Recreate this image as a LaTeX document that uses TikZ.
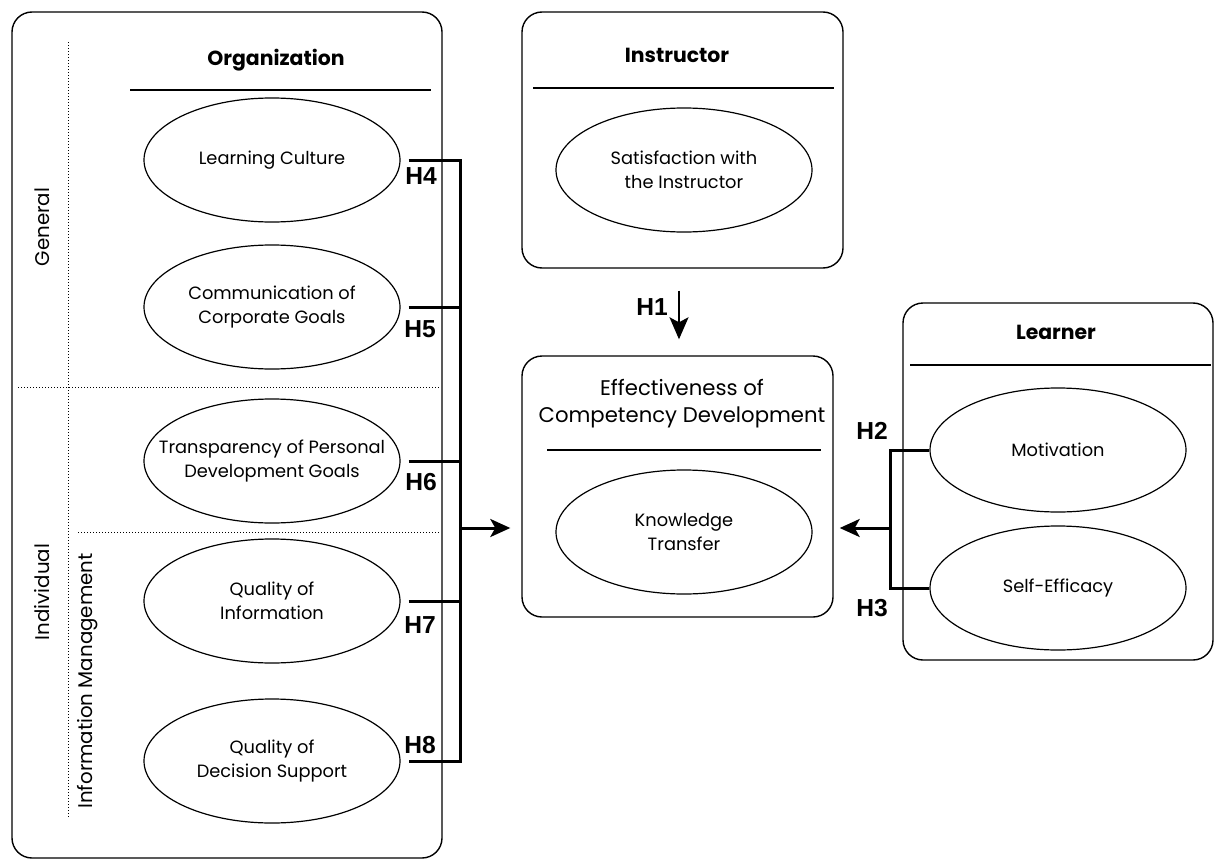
\documentclass[tikz,border=0pt]{standalone}
\usepackage{fontspec}
\setmainfont{Poppins}
\newfontfamily\hfont{Liberation Sans}
\usetikzlibrary{shapes.geometric,arrows.meta,calc}
\tikzset{
 box/.style={draw, rounded corners=10pt, line width=0.7pt, inner sep=0pt},
 oval/.style={draw, ellipse, minimum width=128pt, minimum height=62pt, inner xsep=-14pt, inner ysep=0pt, line width=0.6pt, font=\fontsize{8.9}{12}\selectfont, align=center},
 title/.style={font=\fontsize{10.2}{12}\selectfont\bfseries},
 bigtext/.style={font=\fontsize{10.6}{13.6}\selectfont, align=center},
 hyp/.style={font=\hfont\fontsize{12.3}{13}\selectfont\bfseries},
 conn/.style={line width=1.5pt},
 arr/.style={line width=1.5pt, -{Stealth[length=10pt,width=9pt,inset=2.5pt]}},
 arrthin/.style={line width=1pt, -{Stealth[length=11pt,width=9.5pt,inset=2.5pt]}},
 dotline/.style={densely dotted, line width=0.5pt},
 sidelabel/.style={rotate=90, font=\fontsize{9.9}{11}\selectfont},
 rule/.style={line width=0.7pt}
}
\begin{document}
\begin{tikzpicture}[x=0.5pt,y=-0.5pt]
\useasboundingbox (0,0) rectangle (1216,862);
% boxes
\node[box, minimum width=215pt, minimum height=423pt] (org) at (227,435) {};
\node[box, minimum width=160.5pt, minimum height=128pt] (inst) at (682.5,140) {};
\node[box, minimum width=155.5pt, minimum height=130.5pt] (eff) at (677.5,486.5) {};
\node[box, minimum width=155pt, minimum height=178.5pt] (lrn) at (1058,481.5) {};
% titles
\node[title] (orgt) at (276,60) {Organization};
\draw[rule] (130,90) -- (431,90);
\node[title] (instt) at (677,55) {Instructor};
\draw[rule] (533,88) -- (834,88);
\node[bigtext] (efft) at (682,404) {Effectiveness of\\Competency Development};
\draw[rule] (547,450) -- (821,450);
\node[title] (lrnt) at (1056,332) {Learner};
\draw[rule] (910,365) -- (1211,365);
% dotted partitions
\draw[dotline] (68,42) -- (68,817);
\draw[dotline] (18,387) -- (441,387);
\draw[dotline] (78,532) -- (441,532);
\node[sidelabel] (gen) at (42,227) {General};
\node[sidelabel] (ind) at (42,592) {Individual};
\node[sidelabel] (im) at (88,681) {Information Management};
% ellipses
\node[oval] (lc) at (272,160) {Learning Culture};
\node[oval] (ccg) at (272,307) {Communication of\\Corporate Goals};
\node[oval] (tpdg) at (272,461) {Transparency of Personal\\Development Goals};
\node[oval] (qi) at (272,601) {Quality of\\Information};
\node[oval] (qds) at (272,761) {Quality of\\Decision Support};
\node[oval] (si) at (684,170) {Satisfaction with\\the Instructor};
\node[oval] (kt) at (684,532) {Knowledge\\Transfer};
\node[oval] (mot) at (1058,450) {Motivation};
\node[oval] (se) at (1058,588) {Self-Efficacy};
% organization bracket
\coordinate (b4) at (460,160);
\coordinate (b5) at (460,307);
\coordinate (b6) at (460,461);
\coordinate (b7) at (460,601);
\coordinate (b8) at (460,761);
\coordinate (bm) at (460,528);
\draw[conn] ([xshift=4pt]lc.east) -- (b4) -- (b8) -- ([xshift=4pt]qds.east);
\draw[conn] ([xshift=4pt]ccg.east) -- (b5);
\draw[conn] ([xshift=4pt]tpdg.east) -- (b6);
\draw[conn] ([xshift=4pt]qi.east) -- (b7);
\draw[arr] (bm) -- ($(eff.west |- bm)+(-11,0)$);
\node[hyp] (h4) at (421,176) {H4};
\node[hyp] (h5) at (420,329) {H5};
\node[hyp] (h6) at (421,482) {H6};
\node[hyp] (h7) at (420,625) {H7};
\node[hyp] (h8) at (420,745) {H8};
% instructor arrow
\draw[arrthin] ($(inst.south)+(-3.5,22)$) -- ($(eff.north)+(1.5,-16)$);
\node[hyp] (h1) at (652,307) {H1};
% learner bracket
\coordinate (l2) at (890,450);
\coordinate (l3) at (890,588);
\coordinate (lm) at (890,528);
\draw[conn] (mot.west) -- (l2) -- (l3) -- (se.west);
\draw[arr] (lm) -- ($(eff.east |- lm)+(6,0)$);
\node[hyp] (h2) at (872,431) {H2};
\node[hyp] (h3) at (872,608) {H3};
\end{tikzpicture}
\end{document}
